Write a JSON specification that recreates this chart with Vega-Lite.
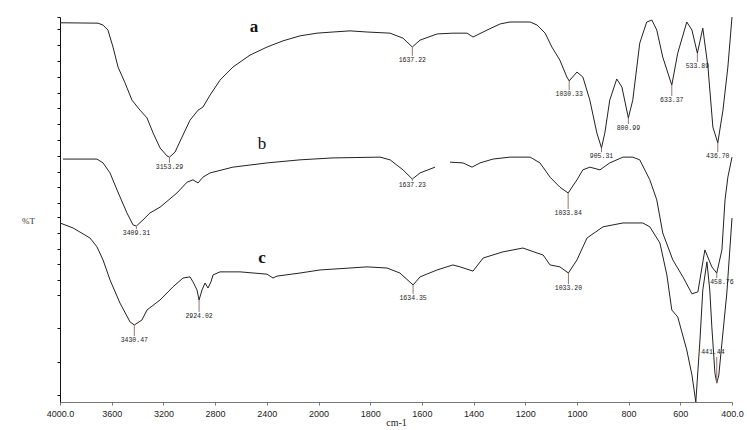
{
  "$schema": "https://vega.github.io/schema/vega-lite/v6.json",
  "width": 672,
  "height": 385,
  "autosize": {"type": "none"},
  "padding": {"left": 60, "top": 17, "right": 15, "bottom": 28},
  "background": "white",
  "config": {"view": {"stroke": null}},
  "datasets": {
    "curves": [
      {"s":"a","wn":4000,"t":98.5},{"s":"a","wn":3706,"t":98.4},{"s":"a","wn":3667,"t":97.9},{"s":"a","wn":3629,"t":96.6},{"s":"a","wn":3590,"t":92.2},{"s":"a","wn":3551,"t":87.0},{"s":"a","wn":3497,"t":82.9},{"s":"a","wn":3443,"t":78.4},{"s":"a","wn":3381,"t":75.8},{"s":"a","wn":3327,"t":73.8},{"s":"a","wn":3280,"t":69.9},{"s":"a","wn":3226,"t":66.0},{"s":"a","wn":3172,"t":63.9},{"s":"a","wn":3153,"t":63.6},{"s":"a","wn":3110,"t":64.9},{"s":"a","wn":3056,"t":68.8},{"s":"a","wn":2994,"t":73.2},{"s":"a","wn":2932,"t":75.8},{"s":"a","wn":2894,"t":76.6},{"s":"a","wn":2839,"t":79.7},{"s":"a","wn":2762,"t":83.6},{"s":"a","wn":2662,"t":87.0},{"s":"a","wn":2530,"t":90.1},{"s":"a","wn":2398,"t":92.2},{"s":"a","wn":2275,"t":93.8},{"s":"a","wn":2143,"t":95.1},{"s":"a","wn":2012,"t":95.8},{"s":"a","wn":1944,"t":96.1},{"s":"a","wn":1878,"t":96.4},{"s":"a","wn":1812,"t":96.1},{"s":"a","wn":1723,"t":95.8},{"s":"a","wn":1673,"t":94.5},{"s":"a","wn":1637,"t":92.2},{"s":"a","wn":1607,"t":94.0},{"s":"a","wn":1541,"t":95.6},{"s":"a","wn":1480,"t":95.8},{"s":"a","wn":1425,"t":95.8},{"s":"a","wn":1402,"t":94.8},{"s":"a","wn":1348,"t":96.6},{"s":"a","wn":1297,"t":98.2},{"s":"a","wn":1259,"t":98.7},{"s":"a","wn":1181,"t":98.7},{"s":"a","wn":1154,"t":97.9},{"s":"a","wn":1123,"t":95.8},{"s":"a","wn":1097,"t":92.2},{"s":"a","wn":1066,"t":88.8},{"s":"a","wn":1039,"t":84.4},{"s":"a","wn":1030,"t":83.4},{"s":"a","wn":1000,"t":85.7},{"s":"a","wn":977,"t":84.4},{"s":"a","wn":950,"t":78.4},{"s":"a","wn":923,"t":69.9},{"s":"a","wn":905,"t":66.0},{"s":"a","wn":892,"t":69.9},{"s":"a","wn":873,"t":78.4},{"s":"a","wn":846,"t":83.9},{"s":"a","wn":826,"t":81.8},{"s":"a","wn":801,"t":73.8},{"s":"a","wn":784,"t":78.4},{"s":"a","wn":757,"t":93.2},{"s":"a","wn":730,"t":98.7},{"s":"a","wn":710,"t":99.2},{"s":"a","wn":691,"t":96.6},{"s":"a","wn":668,"t":89.6},{"s":"a","wn":633,"t":82.3},{"s":"a","wn":610,"t":90.6},{"s":"a","wn":575,"t":98.7},{"s":"a","wn":555,"t":96.6},{"s":"a","wn":534,"t":90.6},{"s":"a","wn":513,"t":97.1},{"s":"a","wn":493,"t":87.0},{"s":"a","wn":474,"t":71.4},{"s":"a","wn":455,"t":67.3},{"s":"a","wn":435,"t":75.8},{"s":"a","wn":416,"t":87.0},{"s":"a","wn":400,"t":100},
      {"s":"b1","wn":3977,"t":63.1},{"s":"b1","wn":3714,"t":63.1},{"s":"b1","wn":3667,"t":62.1},{"s":"b1","wn":3613,"t":59.5},{"s":"b1","wn":3559,"t":55.1},{"s":"b1","wn":3482,"t":49.1},{"s":"b1","wn":3435,"t":46.0},{"s":"b1","wn":3409,"t":45.7},{"s":"b1","wn":3358,"t":47.3},{"s":"b1","wn":3304,"t":49.1},{"s":"b1","wn":3226,"t":50.6},{"s":"b1","wn":3095,"t":54.3},{"s":"b1","wn":3017,"t":57.1},{"s":"b1","wn":2971,"t":57.7},{"s":"b1","wn":2932,"t":56.9},{"s":"b1","wn":2894,"t":58.4},{"s":"b1","wn":2839,"t":59.5},{"s":"b1","wn":2662,"t":61.0},{"s":"b1","wn":2398,"t":62.1},{"s":"b1","wn":2143,"t":62.9},{"s":"b1","wn":1944,"t":63.4},{"s":"b1","wn":1762,"t":63.6},{"s":"b1","wn":1723,"t":62.9},{"s":"b1","wn":1673,"t":60.3},{"s":"b1","wn":1637,"t":57.9},{"s":"b1","wn":1607,"t":59.5},{"s":"b1","wn":1549,"t":61.0},
      {"s":"b2","wn":1491,"t":62.3},{"s":"b2","wn":1441,"t":62.1},{"s":"b2","wn":1406,"t":61.0},{"s":"b2","wn":1375,"t":62.1},{"s":"b2","wn":1325,"t":63.1},{"s":"b2","wn":1259,"t":63.6},{"s":"b2","wn":1181,"t":63.6},{"s":"b2","wn":1143,"t":62.1},{"s":"b2","wn":1104,"t":58.4},{"s":"b2","wn":1066,"t":55.8},{"s":"b2","wn":1034,"t":54.3},{"s":"b2","wn":1000,"t":57.7},{"s":"b2","wn":977,"t":60.3},{"s":"b2","wn":950,"t":61.0},{"s":"b2","wn":911,"t":60.3},{"s":"b2","wn":873,"t":62.1},{"s":"b2","wn":822,"t":63.6},{"s":"b2","wn":784,"t":63.6},{"s":"b2","wn":757,"t":62.9},{"s":"b2","wn":718,"t":57.7},{"s":"b2","wn":691,"t":52.5},{"s":"b2","wn":668,"t":43.9},{"s":"b2","wn":629,"t":36.9},{"s":"b2","wn":590,"t":32.5},{"s":"b2","wn":555,"t":28.1},{"s":"b2","wn":532,"t":28.6},{"s":"b2","wn":505,"t":39.5},{"s":"b2","wn":478,"t":35.1},{"s":"b2","wn":459,"t":33.5},{"s":"b2","wn":439,"t":39.5},{"s":"b2","wn":427,"t":52.5},{"s":"b2","wn":416,"t":58.4},{"s":"b2","wn":400,"t":63.6},
      {"s":"c","wn":4000,"t":46.5},{"s":"c","wn":3899,"t":45.2},{"s":"c","wn":3768,"t":42.6},{"s":"c","wn":3714,"t":40.3},{"s":"c","wn":3667,"t":36.9},{"s":"c","wn":3613,"t":31.7},{"s":"c","wn":3536,"t":25.7},{"s":"c","wn":3458,"t":20.8},{"s":"c","wn":3425,"t":20.0},{"s":"c","wn":3366,"t":21.3},{"s":"c","wn":3327,"t":23.9},{"s":"c","wn":3226,"t":26.5},{"s":"c","wn":3126,"t":29.9},{"s":"c","wn":3048,"t":32.2},{"s":"c","wn":2994,"t":32.5},{"s":"c","wn":2971,"t":31.2},{"s":"c","wn":2940,"t":29.1},{"s":"c","wn":2924,"t":26.5},{"s":"c","wn":2901,"t":29.1},{"s":"c","wn":2878,"t":30.9},{"s":"c","wn":2855,"t":29.6},{"s":"c","wn":2832,"t":31.2},{"s":"c","wn":2816,"t":33.0},{"s":"c","wn":2762,"t":33.8},{"s":"c","wn":2607,"t":33.8},{"s":"c","wn":2398,"t":33.2},{"s":"c","wn":2352,"t":32.2},{"s":"c","wn":2321,"t":32.7},{"s":"c","wn":2143,"t":33.5},{"s":"c","wn":1994,"t":34.3},{"s":"c","wn":1878,"t":34.8},{"s":"c","wn":1812,"t":35.1},{"s":"c","wn":1735,"t":34.8},{"s":"c","wn":1685,"t":33.5},{"s":"c","wn":1634,"t":30.4},{"s":"c","wn":1607,"t":32.5},{"s":"c","wn":1541,"t":34.3},{"s":"c","wn":1480,"t":35.6},{"s":"c","wn":1452,"t":35.1},{"s":"c","wn":1402,"t":34.0},{"s":"c","wn":1363,"t":37.4},{"s":"c","wn":1286,"t":39.0},{"s":"c","wn":1209,"t":40.0},{"s":"c","wn":1154,"t":38.7},{"s":"c","wn":1131,"t":38.2},{"s":"c","wn":1104,"t":35.6},{"s":"c","wn":1066,"t":35.1},{"s":"c","wn":1033,"t":33.5},{"s":"c","wn":1000,"t":36.9},{"s":"c","wn":961,"t":42.6},{"s":"c","wn":899,"t":45.5},{"s":"c","wn":822,"t":46.5},{"s":"c","wn":745,"t":46.5},{"s":"c","wn":718,"t":45.5},{"s":"c","wn":679,"t":41.3},{"s":"c","wn":652,"t":33.0},{"s":"c","wn":633,"t":23.9},{"s":"c","wn":610,"t":22.1},{"s":"c","wn":575,"t":13.5},{"s":"c","wn":555,"t":7.0},{"s":"c","wn":540,"t":0},{"s":"c","wn":524,"t":16.1},{"s":"c","wn":513,"t":29.1},{"s":"c","wn":497,"t":36.4},{"s":"c","wn":486,"t":29.1},{"s":"c","wn":478,"t":19.5},{"s":"c","wn":466,"t":7.5},{"s":"c","wn":459,"t":4.9},{"s":"c","wn":451,"t":7.0},{"s":"c","wn":439,"t":15.3},{"s":"c","wn":420,"t":28.3},{"s":"c","wn":400,"t":47.8}
    ],
    "ticks": [
      {"wn":3153,"t":63.6,"t2":62.1},{"wn":1637,"t":92.2,"t2":89.9},{"wn":1030,"t":83.4,"t2":81.0},{"wn":905,"t":66.0,"t2":64.9},{"wn":801,"t":73.8,"t2":72.2},{"wn":633,"t":82.3,"t2":79.5},{"wn":534,"t":90.6,"t2":88.3},{"wn":455,"t":67.3,"t2":64.9},
      {"wn":3409,"t":45.7,"t2":44.9},{"wn":1637,"t":57.9,"t2":57.4},{"wn":1034,"t":54.3,"t2":50.1},
      {"wn":3425,"t":20.0,"t2":17.1},{"wn":2924,"t":26.5,"t2":23.4},{"wn":1634,"t":30.4,"t2":28.1},{"wn":1033,"t":33.5,"t2":30.6},{"wn":459,"t":33.5,"t2":32.2},{"wn":459,"t":4.9,"t2":11.7}
    ],
    "peaklabels": [
      {"wn":3153,"t":61.0,"text":"3153.29"},{"wn":1637,"t":88.8,"text":"1637.22"},{"wn":1030,"t":80.0,"text":"1030.33"},{"wn":905,"t":63.9,"text":"905.31"},{"wn":801,"t":71.2,"text":"800.99"},{"wn":633,"t":78.4,"text":"633.37"},{"wn":534,"t":87.3,"text":"533.89"},{"wn":455,"t":63.9,"text":"436.70"},
      {"wn":3409,"t":43.9,"text":"3409.31"},{"wn":1637,"t":56.4,"text":"1637.23"},{"wn":1034,"t":49.1,"text":"1033.84"},
      {"wn":3425,"t":16.1,"text":"3430.47"},{"wn":2924,"t":22.3,"text":"2924.02"},{"wn":1634,"t":27.0,"text":"1634.35"},{"wn":1033,"t":29.6,"text":"1033.20"},{"wn":439,"t":31.2,"text":"458.76"},{"wn":474,"t":13.0,"text":"441.44"}
    ]
  },
  "encoding": {
    "x": {"field": "wn", "type": "quantitative",
      "scale": {"domain": [4000, 2000, 400], "range": [0, 258.5, 672], "nice": false, "zero": false},
      "axis": {"title": "cm-1", "values": [4000,3600,3200,2800,2400,2000,1800,1600,1400,1200,1000,800,600,400],
        "labelExpr": "datum.value == 4000 || datum.value == 400 ? format(datum.value, '.1f') : format(datum.value, 'd')",
        "grid": false, "domainColor": "#777", "tickColor": "#777", "tickSize": 3,
        "labelFont": "Liberation Sans", "labelFontSize": 9, "labelColor": "#222", "labelPadding": 4,
        "labelFlush": false, "labelOverlap": false,
        "titleFont": "Liberation Serif", "titleFontSize": 10, "titleFontWeight": "normal", "titleColor": "#222", "titlePadding": -1}},
    "y": {"field": "t", "type": "quantitative",
      "scale": {"domain": [0, 100], "nice": false, "zero": false},
      "axis": {"title": "%T", "values": [100,96.9,92.7,88.6,84.4,80.3,76.4,72.2,68.1,63.9,59.7,55.8,51.7,48.1,43.9,39.7,35.8,31.7,27.8,19.2,10.4,1.8],
        "labels": false, "grid": false, "domainColor": "#111", "tickColor": "#111", "tickSize": 3,
        "titleAngle": 0, "titleX": -32, "titleY": 203, "titleAlign": "center", "titleBaseline": "middle",
        "titleFont": "Liberation Serif", "titleFontSize": 9, "titleFontWeight": "normal", "titleColor": "#333"}}
  },
  "layer": [
    {"data": {"name": "curves"}, "mark": {"type": "line", "color": "#222", "strokeWidth": 1},
      "encoding": {"detail": {"field": "s"}}},
    {"data": {"name": "ticks"}, "mark": {"type": "rule", "color": "#9a7070", "strokeWidth": 1},
      "encoding": {"y2": {"field": "t2"}}},
    {"data": {"name": "peaklabels"}, "mark": {"type": "text", "font": "Liberation Mono", "fontSize": 6.5, "color": "#222", "baseline": "middle"},
      "encoding": {"text": {"field": "text"}}},
    {"data": {"values": [{"wn": 2499, "t": 97.4, "text": "a"}, {"wn": 2437, "t": 37.4, "text": "c"}]},
      "mark": {"type": "text", "font": "Liberation Serif", "fontSize": 17, "fontWeight": "bold", "color": "#111", "baseline": "middle"},
      "encoding": {"text": {"field": "text"}}},
    {"data": {"values": [{"wn": 2437, "t": 67.0, "text": "b"}]},
      "mark": {"type": "text", "font": "Liberation Serif", "fontSize": 17, "color": "#111", "baseline": "middle"},
      "encoding": {"text": {"field": "text"}}},
    {"data": {"values": [{}]},
      "mark": {"type": "rect", "fill": null, "stroke": "black", "strokeWidth": 5, "clip": false},
      "encoding": {"x": {"datum": 4391, "type": "quantitative"}, "x2": {"datum": 338}, "y": {"datum": 102.5, "type": "quantitative"}, "y2": {"datum": -7.5}}}
  ]
}
